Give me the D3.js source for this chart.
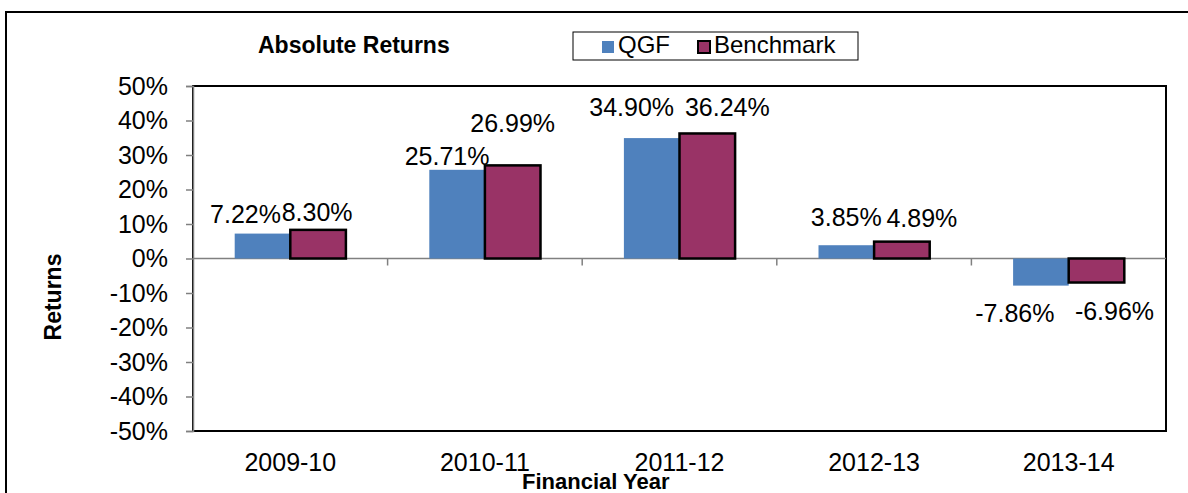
<!DOCTYPE html>
<html>
<head>
<meta charset="utf-8">
<script src="https://cdn.jsdelivr.net/npm/d3@7"></script>
<style>
  body { margin: 0; background: #fff; }
  svg text { font-family: "Liberation Sans", Arial, sans-serif; fill: #000; }
</style>
</head>
<body>
<div id="chart"></div>
<script>
// ---- data ----
var years = ["2009-10", "2010-11", "2011-12", "2012-13", "2013-14"];
var seriesNames = ["QGF", "Benchmark"];
var qgf = [7.22, 25.71, 34.90, 3.85, -7.86];
var benchmark = [8.30, 26.99, 36.24, 4.89, -6.96];
var yTicks = [50, 40, 30, 20, 10, 0, -10, -20, -30, -40, -50];

// hand-dragged label nudges (px), like the original
var qgfLabelDx = [-17, -10, -20, 0, -26];
var qgfLabelDy = [-11, -5, -22, -19, 36];
var benchLabelDx = [-1, 0, 20, 20, 18];
var benchLabelDy = [-9, -33, -17, -15, 37];

var colors = { QGF: "#4f81bd", Benchmark: "#993366" };

// ---- layout ----
var W = 1188, H = 493;
var plot = { left: 193, top: 86, right: 1166, bottom: 431 };

var svg = d3.select("#chart")
    .append("svg")
    .attr("width", W)
    .attr("height", H);

// outer frame (runs off the right and bottom edges)
svg.append("rect")
    .attr("x", 6).attr("y", 12)
    .attr("width", W + 10).attr("height", H + 10)
    .attr("fill", "none")
    .attr("stroke", "#000")
    .attr("stroke-width", 2);

var x0 = d3.scaleBand()
    .domain(years)
    .range([plot.left, plot.right])
    .paddingInner(0)
    .paddingOuter(0);

// gap width 150% -> each bar is band / 3.5
var x1 = d3.scaleBand()
    .domain(seriesNames)
    .range([0, x0.bandwidth()])
    .paddingInner(0)
    .paddingOuter(0.75);

var y = d3.scaleLinear()
    .domain([-50, 50])
    .range([plot.bottom, plot.top]);

// plot area border
svg.append("rect")
    .attr("x", plot.left).attr("y", plot.top)
    .attr("width", plot.right - plot.left)
    .attr("height", plot.bottom - plot.top)
    .attr("fill", "#fff")
    .attr("stroke", "#000")
    .attr("stroke-width", 2);

// y axis
var yAxis = d3.axisLeft(y)
    .tickValues(yTicks)
    .tickSize(7)
    .tickPadding(18)
    .tickFormat(function(d) { return d + "%"; });

var gy = svg.append("g")
    .attr("transform", "translate(" + plot.left + ",0)")
    .call(yAxis);
gy.select(".domain").attr("stroke", "#808080").attr("stroke-width", 1.5);
gy.selectAll(".tick line").attr("stroke", "#808080").attr("stroke-width", 1.5);
gy.selectAll(".tick text")
    .attr("font-size", 25)
    .attr("font-family", "Liberation Sans, Arial, sans-serif")
    .attr("fill", "#000");

// zero line with category ticks
var gx = svg.append("g")
    .attr("transform", "translate(0," + y(0) + ")");
gx.append("line")
    .attr("x1", plot.left).attr("x2", plot.right)
    .attr("stroke", "#808080").attr("stroke-width", 1.5);
gx.selectAll(".cat-tick")
    .data(years.slice(1))
    .enter()
    .append("line")
    .attr("class", "cat-tick")
    .attr("x1", function(d) { return x0(d); })
    .attr("x2", function(d) { return x0(d); })
    .attr("y1", 0).attr("y2", 7)
    .attr("stroke", "#808080").attr("stroke-width", 1.5);

// category labels below plot
svg.selectAll(".cat-label")
    .data(years)
    .enter()
    .append("text")
    .attr("class", "cat-label")
    .attr("x", function(d) { return x0(d) + x0.bandwidth() / 2; })
    .attr("y", plot.bottom + 40)
    .attr("text-anchor", "middle")
    .attr("font-size", 25)
    .text(function(d) { return d; });

// bars
var rows = years.map(function(yr, i) {
    return [
        { year: yr, series: "QGF", value: qgf[i], dx: qgfLabelDx[i], dy: qgfLabelDy[i] },
        { year: yr, series: "Benchmark", value: benchmark[i], dx: benchLabelDx[i], dy: benchLabelDy[i] }
    ];
});

var groups = svg.selectAll(".year")
    .data(rows)
    .enter()
    .append("g")
    .attr("class", "year")
    .attr("transform", function(d) { return "translate(" + x0(d[0].year) + ",0)"; });

groups.selectAll("rect")
    .data(function(d) { return d; })
    .enter()
    .append("rect")
    .attr("x", function(d) { return x1(d.series); })
    .attr("y", function(d) { return y(Math.max(0, d.value)); })
    .attr("width", x1.bandwidth())
    .attr("height", function(d) { return Math.abs(y(d.value) - y(0)); })
    .attr("fill", function(d) { return colors[d.series]; })
    .attr("stroke", function(d) { return d.series === "Benchmark" ? "#000" : "none"; })
    .attr("stroke-width", 2.5);

groups.selectAll(".val")
    .data(function(d) { return d; })
    .enter()
    .append("text")
    .attr("class", "val")
    .attr("x", function(d) { return x1(d.series) + x1.bandwidth() / 2 + d.dx; })
    .attr("y", function(d) { return y(d.value) + d.dy; })
    .attr("text-anchor", "middle")
    .attr("font-size", 25)
    .text(function(d) { return d.value.toFixed(2) + "%"; });

// title
svg.append("text")
    .attr("x", 258).attr("y", 53)
    .attr("font-size", 23)
    .attr("font-weight", "bold")
    .text("Absolute Returns");

// legend
var legend = svg.append("g");
legend.append("rect")
    .attr("x", 573).attr("y", 32)
    .attr("width", 285).attr("height", 28)
    .attr("fill", "#fff")
    .attr("stroke", "#000")
    .attr("stroke-width", 1);

var legendX = { QGF: 602, Benchmark: 698 };
var li = legend.selectAll(".li")
    .data(seriesNames)
    .enter()
    .append("g")
    .attr("class", "li")
    .attr("transform", function(d) { return "translate(" + legendX[d] + ",41)"; });
li.append("rect")
    .attr("width", 12).attr("height", 12)
    .attr("fill", function(d) { return colors[d]; })
    .attr("stroke", function(d) { return d === "Benchmark" ? "#000" : "none"; })
    .attr("stroke-width", 2);
li.append("text")
    .attr("x", 16).attr("y", 12)
    .attr("font-size", 24)
    .text(function(d) { return d; });

// axis titles
svg.append("text")
    .attr("transform", "translate(61,297) rotate(-90)")
    .attr("text-anchor", "middle")
    .attr("font-size", 23)
    .attr("font-weight", "bold")
    .text("Returns");

svg.append("text")
    .attr("x", 522).attr("y", 489)
    .attr("font-size", 22)
    .attr("font-weight", "bold")
    .text("Financial Year");
</script>
</body>
</html>
